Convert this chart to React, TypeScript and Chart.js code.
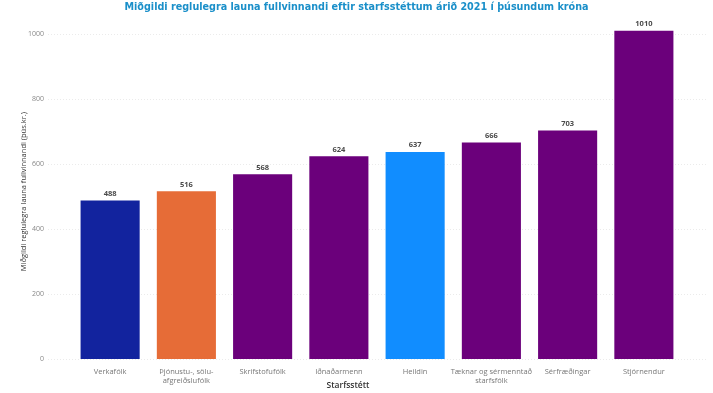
import React, { useEffect, useRef } from "react";
import { Chart, registerables } from "chart.js";

Chart.register(...registerables);

const titleText = "Miðgildi reglulegra launa fullvinnandi eftir starfsstéttum árið 2021 í þúsundum króna";
const categories: (string | string[])[] = [
  "Verkafólk",
  ["Þjónustu-, sölu-", "afgreiðslufólk"],
  "Skrifstofufólk",
  "Iðnaðarmenn",
  "Heildin",
  ["Tæknar og sérmenntað", "starfsfólk"],
  "Sérfræðingar",
  "Stjórnendur",
];
const values = [488, 516, 568, 624, 637, 666, 703, 1010];
const barColors = ["#12239E", "#E66C37", "#6B007B", "#6B007B", "#118DFF", "#6B007B", "#6B007B", "#6B007B"];
const yTicks = [0, 200, 400, 600, 800, 1000];
const yTitle = "Miðgildi reglulegra launa fullvinnandi (þús.kr.)";
const xTitle = "Starfsstétt";

const FONT = "'Open Sans', 'Noto Sans', sans-serif";

const gridPlugin = {
  id: "extGrid",
  beforeDatasetsDraw(chart: any) {
    const { ctx, chartArea, scales } = chart;
    const y = scales.y;
    ctx.save();
    ctx.strokeStyle = "rgba(0,0,0,0.08)";
    ctx.lineWidth = 1;
    ctx.setLineDash([1, 2]);
    yTicks.forEach((v) => {
      const py = Math.round(y.getPixelForValue(v)) + 0.5;
      ctx.beginPath();
      ctx.moveTo(chartArea.left - 24, py);
      ctx.lineTo(chartArea.right + 25, py);
      ctx.stroke();
    });
    ctx.restore();
  },
};

const labelPlugin = {
  id: "barLabels",
  afterDatasetsDraw(chart: any) {
    const { ctx, chartArea, width } = chart;
    const meta = chart.getDatasetMeta(0);
    ctx.save();
    ctx.fillStyle = "#4a4a4a";
    ctx.font = `bold 7.5px ${FONT}`;
    ctx.textAlign = "center";
    ctx.textBaseline = "bottom";
    meta.data.forEach((bar: any, i: number) => {
      ctx.fillText(String(values[i]), bar.x, bar.y - 3);
    });
    // x-axis title
    ctx.fillStyle = "#333";
    ctx.font = `600 8.5px ${FONT}`;
    ctx.textBaseline = "middle";
    ctx.fillText(xTitle, (chartArea.left + chartArea.right) / 2 - 29, 386);
    // chart title
    ctx.fillStyle = "#1A8FC9";
    ctx.font = `bold 10.7px 'DejaVu Sans Condensed', sans-serif`;
    ctx.fillText(titleText, width / 2, 7);
    ctx.restore();
  },
};

export default function App() {
  const ref = useRef<HTMLCanvasElement>(null);
  useEffect(() => {
    document.body.style.margin = "0";
    const chart = new Chart(ref.current!, {
      type: "bar",
      data: {
        labels: categories,
        datasets: [
          {
            data: values,
            backgroundColor: barColors,
            categoryPercentage: 1,
            barPercentage: 0.775,
          },
        ],
      },
      options: {
        animation: false,
        responsive: false,
        layout: { padding: { left: 0, right: 31, top: 20, bottom: 0 } },
        plugins: {
          legend: { display: false },
          tooltip: { enabled: false },
          title: { display: false },
        },
        scales: {
          x: {
            grid: { display: false },
            border: { display: false },
            ticks: {
              color: "#777",
              font: { family: FONT, size: 7.5 },
              padding: 0,
              maxRotation: 0,
              autoSkip: false,
            },
            afterFit: (s: any) => {
              s.height = 34;
            },
          },
          y: {
            min: 0,
            max: 1030,
            grid: { display: false },
            border: { display: false },
            afterBuildTicks: (s: any) => {
              s.ticks = yTicks.map((v) => ({ value: v }));
            },
            ticks: {
              color: "#888",
              font: { family: FONT, size: 7 },
              padding: 20,
              callback: (v: any) => String(v),
            },
            title: {
              display: true,
              text: yTitle,
              color: "#333",
              font: { family: FONT, size: 7.5 },
              padding: { top: 19, bottom: 0 },
            },
            afterFit: (s: any) => {
              s.width = 72;
            },
          },
        },
      },
      plugins: [gridPlugin, labelPlugin],
    });
    return () => chart.destroy();
  }, []);
  return (
    <div style={{ width: 713, height: 393, background: "#fff" }}>
      <canvas ref={ref} width={713} height={393} style={{ display: "block" }} />
    </div>
  );
}
